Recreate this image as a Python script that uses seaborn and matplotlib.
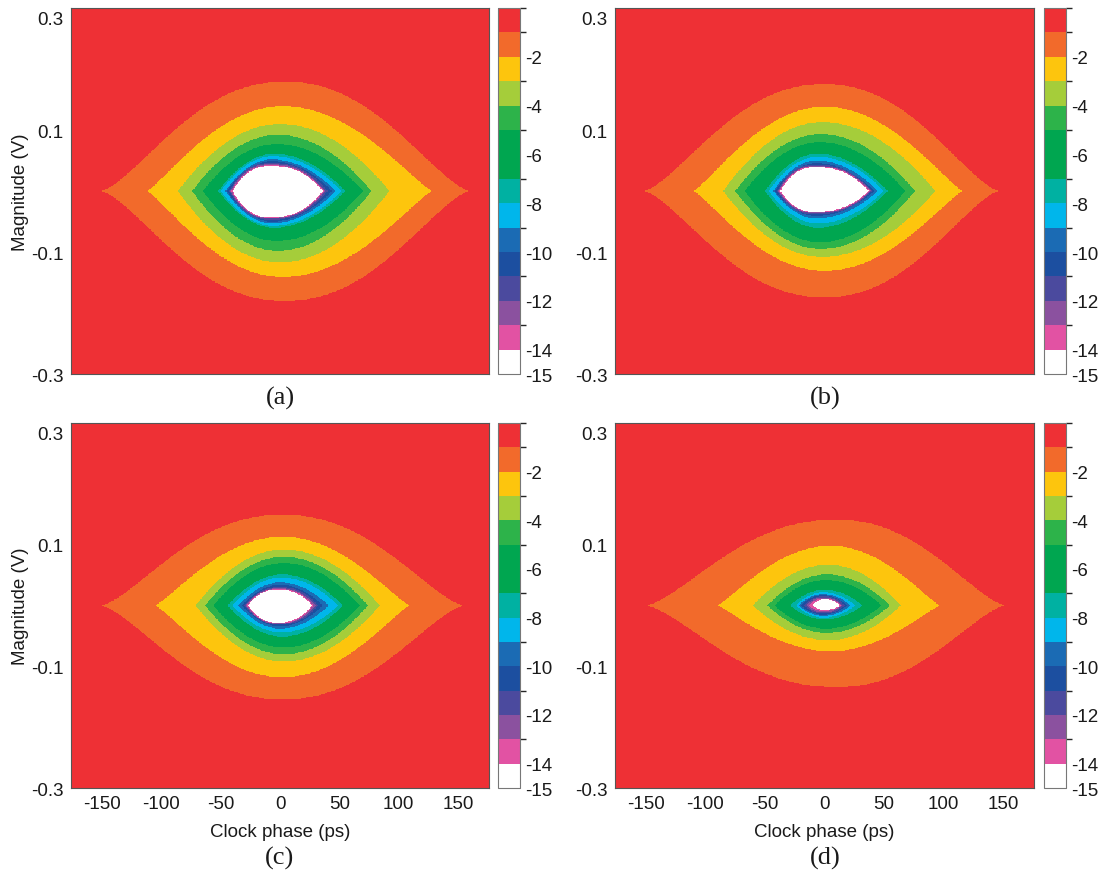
import numpy as np
import matplotlib
matplotlib.use("Agg")
import matplotlib.pyplot as plt
from matplotlib.colors import ListedColormap, BoundaryNorm
from matplotlib.transforms import ScaledTranslation
import seaborn as sns

# ---- colour scale: log10(BER) band edges and fills (deepest band first) ----
bounds = [-15, -14, -13, -12, -11, -10, -9, -8, -7, -5, -4, -3, -2, -1, 0]
band_colors = ["#FFFFFF", "#E252A3", "#8B519F", "#4B4A9E", "#1C4FA0", "#1B6BB4",
               "#00B6EB", "#00B1A2", "#00A650", "#2DB34A", "#A5CD3A", "#FDC50D",
               "#F26A2B", "#EE3035"]
cbar_ticks = [-2, -4, -6, -8, -10, -12, -14, -15]

# ---- axes ----
x_ticks = [-150, -100, -50, 0, 50, 100, 150]
y_ticks = [0.3, 0.2, 0.1, 0.0, -0.1, -0.2, -0.3]
y_ticklabels = ["0.3", "", "0.1", "", "-0.1", "", "-0.3"]
x_range = (-176, 176)
y_range = (-0.3, 0.3)

# ---- BER contours traced in each eye (outer to inner) ----
contour_levels = [-1, -2, -3, -4, -5, -7, -8, -9, -10, -11, -12, -13, -14]
shape_a = [2.2, 2.0, 2.0, 2.0, 2.0, 2.0, 2.0, 2.0, 2.0, 2.5, 2.5, 2.5, 2.5]
shape_b = [1.5, 1.2, 1.0, 1.0, 1.0, 1.0, 1.0, 1.0, 1.0, 1.0, 1.0, 1.0, 1.0]

# (a): left/right tips (ps), crest position (ps), crest height and trough depth (V)
a_left = [-151, -112, -86, -74, -65, -52, -50, -46, -45, -43, -42, -41, -40]
a_right = [160, 128, 92, 77, 70, 55, 52, 47, 44, 40, 38, 37, 36]
a_peak = [4, 2, 0, -2, -3, -5, -6, -7, -7, -8, -8, -8, -8]
a_top = [0.179, 0.139, 0.110, 0.092, 0.077, 0.061, 0.057, 0.052, 0.049, 0.046, 0.044, 0.042, 0.041]
a_bot = [-0.180, -0.141, -0.117, -0.098, -0.082, -0.060, -0.057, -0.053, -0.050, -0.047, -0.045, -0.044, -0.043]

# (b)
b_left = [-152, -110, -85, -75, -67, -50, -47, -43, -42, -40, -39, -38, -37]
b_right = [147, 116, 93, 76, 68, 53, 50, 45, 42, 40, 39, 38, 37]
b_peak = [0, 0, -2, -3, -4, -6, -6, -7, -7, -8, -8, -8, -8]
b_top = [0.175, 0.138, 0.113, 0.093, 0.080, 0.061, 0.056, 0.050, 0.046, 0.043, 0.041, 0.040, 0.039]
b_bot = [-0.174, -0.131, -0.108, -0.095, -0.084, -0.060, -0.053, -0.045, -0.041, -0.038, -0.036, -0.035, -0.034]

# (c)
c_left = [-151, -105, -71, -63, -56, -44, -40, -35, -32, -30, -29, -28, -27]
c_right = [155, 109, 84, 74, 67, 53, 49, 41, 36, 32, 30, 28, 27]
c_peak = [2, 2, 3, 3, 3, 2, 1, 0, 0, 0, -1, -1, -2]
c_top = [0.149, 0.113, 0.092, 0.080, 0.070, 0.051, 0.046, 0.038, 0.034, 0.030, 0.028, 0.027, 0.026]
c_bot = [-0.154, -0.118, -0.092, -0.080, -0.069, -0.051, -0.044, -0.038, -0.034, -0.031, -0.030, -0.029, -0.028]

# (d)
d_left = [-150, -90, -60, -48, -42, -29, -24, -22, -20, -17, -15, -13, -10]
d_right = [152, 97, 64, 55, 48, 32, 26, 22, 19, 17, 15, 14, 13]
d_peak = [10, 5, 3, 2, 1, 0, -1, -1, -1, -1, -1, -1, 0]
d_top = [0.141, 0.098, 0.067, 0.051, 0.042, 0.026, 0.022, 0.019, 0.017, 0.015, 0.013, 0.011, 0.010]
d_bot = [-0.134, -0.075, -0.057, -0.045, -0.038, -0.023, -0.020, -0.017, -0.015, -0.013, -0.011, -0.009, -0.007]

panel_tags = ["(a)", "(b)", "(c)", "(d)"]
panels = [
    (a_left, a_right, a_peak, a_top, a_bot),
    (b_left, b_right, b_peak, b_top, b_bot),
    (c_left, c_right, c_peak, c_top, c_bot),
    (d_left, d_right, d_peak, d_top, d_bot),
]

# sampling grid for the BER map
NX, NY = 704, 600
dx = (x_range[1] - x_range[0]) / NX
dy = (y_range[1] - y_range[0]) / NY
xc = x_range[0] + (np.arange(NX) + 0.5) * dx
yc = y_range[1] - (np.arange(NY) + 0.5) * dy      # top row first
X, Y = np.meshgrid(xc, yc)


def ber_map(left, right, peak, top, bot):
    """Band value of log10(BER) at every grid cell from the nested contours."""
    F = np.full(X.shape, -0.5)
    for lev, xl, xr, xp, yt, yb, pa, pb in zip(contour_levels, left, right, peak,
                                               top, bot, shape_a, shape_b):
        half = np.where(X < xp, xp - xl, xr - xp)
        u = np.abs(X - xp) / half
        prof = np.clip(1.0 - u ** pa, 0.0, None) ** pb
        inside = np.where(Y >= 0, Y <= yt * prof, Y >= yb * prof) & (u < 1)
        F = np.where(inside, np.minimum(F, lev - 0.5), F)
    return F


def xpos(v):
    return (np.asarray(v, float) - x_range[0]) / dx


def ypos(v):
    return (y_range[1] - np.asarray(v, float)) / dy


sns.set_theme(style="ticks")
plt.rcParams["font.family"] = ["Liberation Sans", "DejaVu Sans"]
plt.rcParams["axes.unicode_minus"] = False

cmap = ListedColormap(band_colors)
norm = BoundaryNorm(bounds, cmap.N)

W, H = 1111, 878
fig = plt.figure(figsize=(W / 100, H / 100), dpi=100)


def box(l, t, r, b):
    return fig.add_axes([l / W, 1 - b / H, (r - l) / W, (b - t) / H])


ax_boxes = [(71, 9, 489, 375), (615, 9, 1034, 375),
            (71, 424, 489, 789), (615, 424, 1034, 789)]
cb_boxes = [(498, 9, 520, 375), (1044, 9, 1066, 375),
            (498, 424, 520, 789), (1044, 424, 1066, 789)]
tag_pos = [(280, 398), (825, 398), (280, 858), (825, 858)]

text_color = "#1a1a1a"
edge_color = "#555555"
fs = 13.5

for i, (geom, tag) in enumerate(zip(panels, panel_tags)):
    ax = box(*ax_boxes[i])
    cax = box(*cb_boxes[i])
    F = ber_map(*geom)
    sns.heatmap(F, ax=ax, cmap=cmap, norm=norm, cbar=True, cbar_ax=cax,
                cbar_kws=dict(ticks=cbar_ticks, spacing="proportional"),
                xticklabels=False, yticklabels=False, rasterized=True)

    for s in ax.spines.values():
        s.set_visible(True)
        s.set_color(edge_color)
        s.set_linewidth(0.8)

    ax.set_xticks(xpos(x_ticks))
    ax.set_yticks(ypos(y_ticks))
    ax.set_yticklabels(y_ticklabels, fontsize=fs, color=text_color)
    bottom_row = i >= 2
    if bottom_row:
        ax.set_xticklabels([str(t) for t in x_ticks], fontsize=fs, color=text_color)
        ax.set_xlabel("Clock phase (ps)", fontsize=fs, color=text_color, labelpad=8)
    else:
        ax.set_xticklabels([])
    if i % 2 == 0:
        ax.set_ylabel("Magnitude (V)", fontsize=fs, color=text_color, labelpad=1)
    ax.tick_params(axis="both", direction="in", length=3.5, width=0.6,
                   color="#7a1e20", top=True, right=True, pad=5.5)
    ax.tick_params(axis="x", pad=5)
    ax.set_xlim(0, NX)
    ax.set_ylim(NY, 0)

    # the top magnitude label sits just inside the frame
    top_lab = ax.yaxis.get_major_ticks()[0].label1
    top_lab.set_verticalalignment("top")
    top_lab.set_transform(top_lab.get_transform()
                          + ScaledTranslation(0, -3 / 100, fig.dpi_scale_trans))

    cb = ax.collections[0].colorbar
    cb.outline.set_visible(True)
    cb.outline.set_linewidth(0.8)
    cb.outline.set_edgecolor("#777777")
    cb.set_ticks(cbar_ticks)
    cb.set_ticklabels([str(t) for t in cbar_ticks])
    cax.tick_params(direction="in", length=3, width=0.6, color="#333333",
                    labelsize=fs, labelcolor=text_color, pad=4)

    fig.text(tag_pos[i][0] / W, 1 - tag_pos[i][1] / H, tag, ha="center", va="center",
             fontsize=19, color=text_color, family=["Liberation Serif", "DejaVu Serif"])

fig.savefig("out.png", dpi=100)
